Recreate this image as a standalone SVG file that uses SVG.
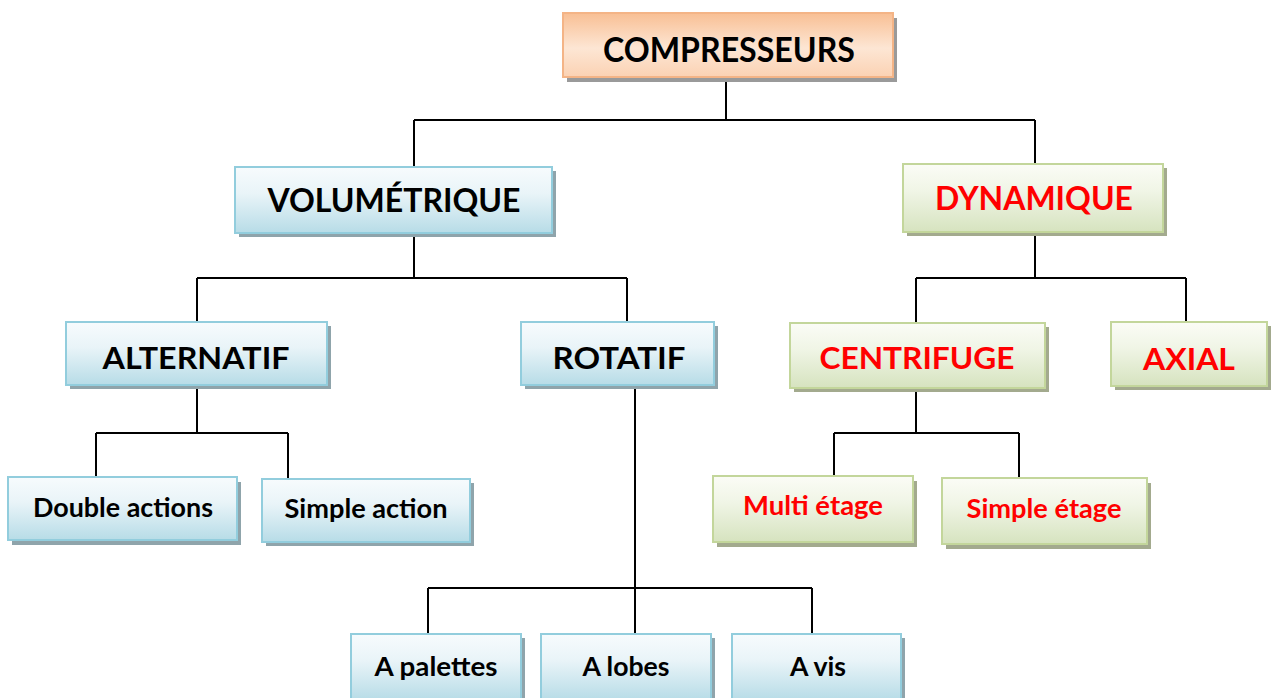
<svg xmlns="http://www.w3.org/2000/svg" width="1273" height="698" viewBox="0 0 1273 698">
<defs>
<linearGradient id="gOr" x1="0" y1="0" x2="0" y2="1">
<stop offset="0" stop-color="#f8bf94"/><stop offset="0.55" stop-color="#fde6d4"/><stop offset="1" stop-color="#fbd2b3"/>
</linearGradient>
<linearGradient id="gBl" x1="0" y1="0" x2="0" y2="1">
<stop offset="0" stop-color="#f7fbfd"/><stop offset="0.4" stop-color="#e9f4f8"/><stop offset="1" stop-color="#b7dce7"/>
</linearGradient>
<linearGradient id="gGr" x1="0" y1="0" x2="0" y2="1">
<stop offset="0" stop-color="#fbfcf6"/><stop offset="0.4" stop-color="#f0f5e6"/><stop offset="1" stop-color="#d6e3bf"/>
</linearGradient>
</defs>
<style>
.sh{fill:#9a9a9a}
.shB{fill:#8fa4ab}
.shG{fill:#a3aa8e}
.or{fill:url(#gOr);stroke:#f4b486;stroke-width:2}
.bl{fill:url(#gBl);stroke:#92cddd;stroke-width:2}
.gr{fill:url(#gGr);stroke:#c3d69b;stroke-width:2}
text{font-family:Lato,"Open Sans","Liberation Sans",sans-serif;font-weight:700;text-anchor:middle}
.k{fill:#000}
.r{fill:#ff0000}
.con{fill:none;stroke:#000;stroke-width:2}
</style>
<rect width="1273" height="698" fill="#fff"/>
<g id="connectors" class="con">
<path d="M726 78V120M414 120H1035M414 120V166M1035 120V164"/>
<path d="M414 234V278M197 278H627M197 278V322M627 278V322"/>
<path d="M1035 232V278M916 278H1186M916 278V323M1186 278V322"/>
<path d="M197 385V433M96 433H288M96 433V477M288 433V479"/>
<path d="M916 388V433M834 433H1019M834 433V476M1019 433V478"/>
<path d="M635 385V588M428 588H812M428 588V634M635 588V634M812 588V634"/>
</g>
<g id="n-compresseurs">
<rect class="sh" x="567" y="18" width="330" height="64"/>
<rect class="or" x="563" y="13" width="330" height="64"/>
<text class="k" x="729" y="62" font-size="34" textLength="252" lengthAdjust="spacingAndGlyphs">COMPRESSEURS</text>
</g>
<g id="n-volumetrique">
<rect class="shB" x="239" y="171" width="317" height="66"/>
<rect class="bl" x="235" y="167" width="317" height="66"/>
<text class="k" x="394" y="212" font-size="33" textLength="253" lengthAdjust="spacingAndGlyphs">VOLUMÉTRIQUE</text>
</g>
<g id="n-dynamique">
<rect class="shG" x="907" y="168" width="260" height="68"/>
<rect class="gr" x="903" y="164" width="260" height="68"/>
<text class="r" x="1034" y="210" font-size="32" textLength="198" lengthAdjust="spacingAndGlyphs">DYNAMIQUE</text>
</g>
<g id="n-alternatif">
<rect class="shB" x="70" y="326" width="261" height="63"/>
<rect class="bl" x="66" y="322" width="261" height="63"/>
<text class="k" x="196" y="369" font-size="31" textLength="187" lengthAdjust="spacingAndGlyphs">ALTERNATIF</text>
</g>
<g id="n-rotatif">
<rect class="shB" x="525" y="326" width="193" height="63"/>
<rect class="bl" x="521" y="322" width="193" height="63"/>
<text class="k" x="619" y="369" font-size="31" textLength="133" lengthAdjust="spacingAndGlyphs">ROTATIF</text>
</g>
<g id="n-centrifuge">
<rect class="shG" x="794" y="327" width="255" height="65"/>
<rect class="gr" x="790" y="323" width="255" height="65"/>
<text class="r" x="917" y="369" font-size="31" textLength="195" lengthAdjust="spacingAndGlyphs">CENTRIFUGE</text>
</g>
<g id="n-axial">
<rect class="shG" x="1115" y="326" width="156" height="64"/>
<rect class="gr" x="1111" y="322" width="156" height="64"/>
<text class="r" x="1189" y="370" font-size="31" textLength="92" lengthAdjust="spacingAndGlyphs">AXIAL</text>
</g>
<g id="n-double-actions">
<rect class="shB" x="12" y="482" width="229" height="63"/>
<rect class="bl" x="8" y="477" width="229" height="63"/>
<text class="k" x="123" y="517" font-size="26" textLength="180" lengthAdjust="spacingAndGlyphs">Double actions</text>
</g>
<g id="n-simple-action">
<rect class="shB" x="266" y="483" width="208" height="63"/>
<rect class="bl" x="262" y="479" width="208" height="63"/>
<text class="k" x="366" y="518" font-size="26" textLength="163" lengthAdjust="spacingAndGlyphs">Simple action</text>
</g>
<g id="n-multi-etage">
<rect class="shG" x="717" y="481" width="200" height="66"/>
<rect class="gr" x="713" y="476" width="200" height="66"/>
<text class="r" x="813" y="515" font-size="26" textLength="140" lengthAdjust="spacingAndGlyphs">Multi étage</text>
</g>
<g id="n-simple-etage">
<rect class="shG" x="946" y="483" width="205" height="66"/>
<rect class="gr" x="942" y="478" width="205" height="66"/>
<text class="r" x="1044" y="518" font-size="26" textLength="155" lengthAdjust="spacingAndGlyphs">Simple étage</text>
</g>
<g id="n-a-palettes">
<rect class="shB" x="355" y="638" width="170" height="66"/>
<rect class="bl" x="351" y="634" width="170" height="66"/>
<text class="k" x="436" y="676" font-size="27" textLength="123" lengthAdjust="spacingAndGlyphs">A palettes</text>
</g>
<g id="n-a-lobes">
<rect class="shB" x="545" y="638" width="170" height="66"/>
<rect class="bl" x="541" y="634" width="170" height="66"/>
<text class="k" x="626" y="676" font-size="27" textLength="87" lengthAdjust="spacingAndGlyphs">A lobes</text>
</g>
<g id="n-a-vis">
<rect class="shB" x="736" y="638" width="169" height="66"/>
<rect class="bl" x="732" y="634" width="169" height="66"/>
<text class="k" x="818" y="676" font-size="27" textLength="56" lengthAdjust="spacingAndGlyphs">A vis</text>
</g>
</svg>
